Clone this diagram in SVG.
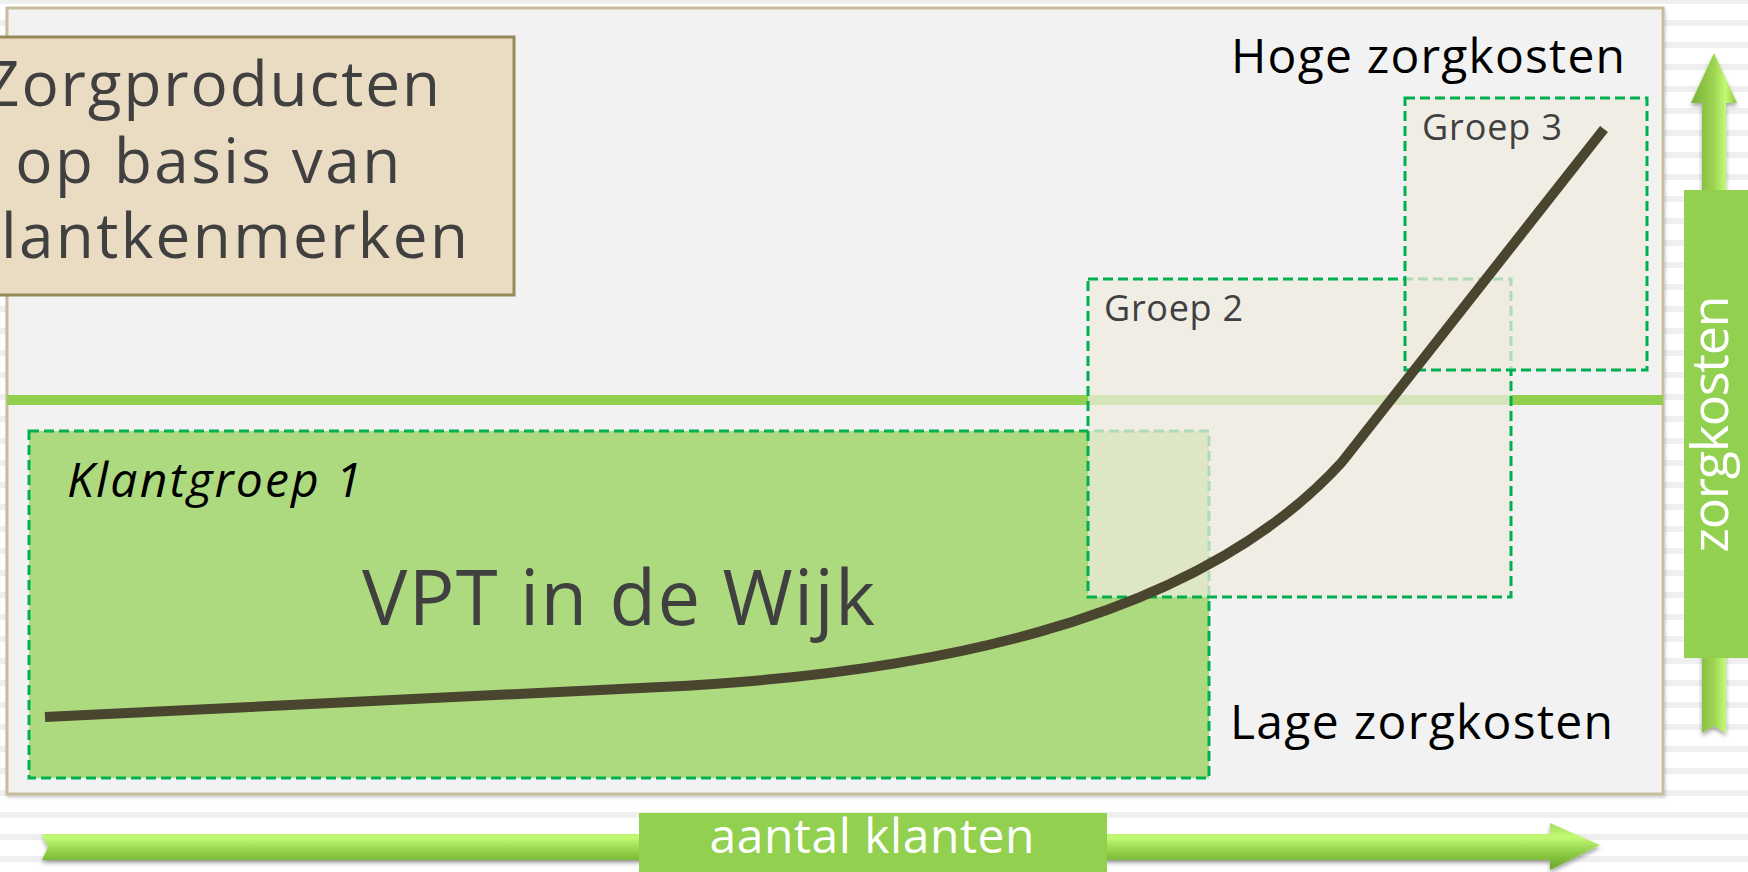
<svg xmlns="http://www.w3.org/2000/svg" width="1748" height="872" viewBox="0 0 1748 872">
  <defs>
    <pattern id="stripes" x="0" y="20" width="1748" height="22" patternUnits="userSpaceOnUse">
      <rect x="0" y="0" width="1748" height="22" fill="#ffffff"/>
      <rect x="0" y="0" width="1748" height="6" fill="#efefef"/>
    </pattern>
    <linearGradient id="gH" x1="0" y1="0" x2="0" y2="1">
      <stop offset="0" stop-color="#a2dc58"/>
      <stop offset="0.3" stop-color="#c2fa74"/>
      <stop offset="0.65" stop-color="#8ccb42"/>
      <stop offset="1" stop-color="#6aa52b"/>
    </linearGradient>
    <linearGradient id="gV" x1="0" y1="0" x2="1" y2="0">
      <stop offset="0" stop-color="#76b236"/>
      <stop offset="0.5" stop-color="#9ed452"/>
      <stop offset="0.75" stop-color="#c2fa74"/>
      <stop offset="1" stop-color="#8cc63f"/>
    </linearGradient>
    <filter id="shadow" x="-5%" y="-20%" width="110%" height="160%">
      <feDropShadow dx="0" dy="3" stdDeviation="2" flood-color="#000000" flood-opacity="0.35"/>
    </filter>
    <filter id="pshadow" x="-2%" y="-2%" width="104%" height="106%">
      <feDropShadow dx="1" dy="2" stdDeviation="1.5" flood-color="#000000" flood-opacity="0.2"/>
    </filter>
  </defs>
  <style>
    .dash { stroke: #00b050; stroke-width: 3; stroke-dasharray: 10 5; }
    .txt { font-family: "Open Sans", "Noto Sans", "DejaVu Sans", sans-serif; }
    .grey { fill: #404040; }
  </style>

  <rect x="0" y="0" width="1748" height="872" fill="url(#stripes)"/>

  <g id="panel">
    <rect x="7" y="8" width="1656" height="786" fill="#f2f2f2" stroke="#c8bd9b" stroke-width="3" filter="url(#pshadow)"/>
  </g>

  <g id="title">
    <rect x="-80" y="37" width="594" height="258" fill="#eadcc2" stroke="#978a5a" stroke-width="3"/>
    <text class="txt grey" font-size="62" text-anchor="middle" lengthAdjust="spacing">
      <tspan x="221" y="106" textLength="456">Zorgproducten</tspan>
      <tspan x="217" y="183" textLength="385">op basis van</tspan>
      <tspan x="217" y="258" textLength="502">klantkenmerken</tspan>
    </text>
  </g>

  <g id="group1">
    <rect x="29" y="431" width="1180" height="347" fill="#add97f" class="dash"/>
    <text class="txt" x="67" y="497" font-size="48" font-style="italic" fill="#000000" textLength="295" lengthAdjust="spacing">Klantgroep 1</text>
    <text class="txt grey" x="362" y="625" font-size="76" textLength="513" lengthAdjust="spacing">VPT in de Wijk</text>
  </g>

  <g id="divider">
    <rect x="7" y="395" width="1656" height="10" fill="#92d050"/>
  </g>

  <g id="group2">
    <rect x="1088" y="279" width="423" height="318" fill="#eeeae0" fill-opacity="0.73" class="dash"/>
    <text class="txt grey" x="1104" y="321" font-size="36" textLength="139" lengthAdjust="spacing">Groep 2</text>
  </g>

  <g id="group3">
    <rect x="1405" y="98" width="242" height="272" fill="#eeeae0" fill-opacity="0.73" class="dash"/>
    <text class="txt grey" x="1422" y="140" font-size="36" textLength="140" lengthAdjust="spacing">Groep 3</text>
  </g>

  <g id="labels">
    <text class="txt" x="1231" y="73" font-size="48" fill="#000000" textLength="394" lengthAdjust="spacing">Hoge zorgkosten</text>
    <text class="txt" x="1230" y="739" font-size="48" fill="#000000" textLength="383" lengthAdjust="spacing">Lage zorgkosten</text>
  </g>

  <g id="connectors">
    <path d="M45,717 L661,687 C911,675 1192,627 1342,462 L1604,129" fill="none" stroke="#4a452e" stroke-width="10" stroke-linejoin="round"/>
  </g>

  <g id="axis-x">
    <g filter="url(#shadow)">
      <polygon points="42,834 1550,834 1550,823 1600,845 1550,870 1550,860 42,860 48,847" fill="url(#gH)"/>
    </g>
    <rect x="639" y="813" width="468" height="59" fill="#92d050"/>
    <text class="txt" x="872" y="853" font-size="48" fill="#ffffff" text-anchor="middle" textLength="325" lengthAdjust="spacing">aantal klanten</text>
  </g>

  <g id="axis-y">
    <g filter="url(#shadow)">
      <polygon points="1714,53 1737,103 1726,103 1726,733 1714,726 1702,733 1702,103 1691,103" fill="url(#gV)"/>
    </g>
    <rect x="1684" y="190" width="64" height="468" fill="#92d050"/>
    <text class="txt" transform="translate(1728,424) rotate(-90)" x="0" y="0" font-size="52" fill="#ffffff" text-anchor="middle" textLength="257" lengthAdjust="spacing">zorgkosten</text>
  </g>
</svg>
